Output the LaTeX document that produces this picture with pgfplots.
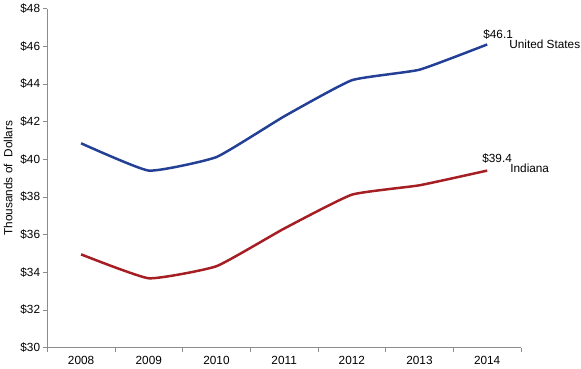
\documentclass[border=0pt]{standalone}
\usepackage{pgfplots}
\pgfplotsset{compat=1.18}
\usepackage{fontspec}
\setmainfont{Liberation Sans}
\definecolor{usblue}{RGB}{35,64,150}
\definecolor{inred}{RGB}{165,30,36}
\definecolor{axgray}{RGB}{140,140,140}
\begin{document}
\fontsize{11.8bp}{13bp}\selectfont
\begin{tikzpicture}
\begin{axis}[
  at={(0,0)}, anchor=south west,
  scale only axis, width=474bp, height=339bp,
  xmin=-0.5, xmax=6.5, ymin=30, ymax=48,
  axis x line*=bottom, axis y line*=left,
  axis line style={axgray, line width=0.8pt},
  xtick={0,...,6}, xticklabels={2008,2009,2010,2011,2012,2013,2014},
  major x tick style={draw=none},
  minor xtick={-0.5,0.5,...,6.5},
  minor tick length=4bp,
  every minor tick/.style={axgray, line width=0.8pt},
  ytick={30,32,...,48},
  yticklabel={\$\pgfmathprintnumber{\tick}},
  ytick style={axgray, line width=0.8pt},
  major tick length=4bp,
  tick align=outside,
  /pgf/number format/assume math mode=true,
  ticklabel style={font=\fontsize{11.8bp}{13bp}\selectfont, text=black},
  xticklabel style={yshift=-1bp},
  yticklabel style={xshift=1bp},
  ylabel={Thousands of\ \ Dollars},
  ylabel style={font=\fontsize{11.8bp}{13bp}\selectfont, at={(rel axis cs:0,0.5)}, anchor=center, yshift=39bp},
  clip=false,
]
\addplot[usblue, line width=2.5pt, smooth, tension=0.25] coordinates {
(0,40.85) (1,39.4) (2,40.12) (3,42.28) (4,44.2) (5,44.76) (6,46.1)};
\addplot[inred, line width=2.5pt, smooth, tension=0.25] coordinates {
(0,34.95) (1,33.68) (2,34.32) (3,36.32) (4,38.12) (5,38.62) (6,39.4)};
\node[anchor=base west, inner sep=0] at (axis cs:6,46.1) [xshift=-4bp, yshift=6bp] {\$46.1};
\node[anchor=west, inner sep=0] at (axis cs:6,46.1) [xshift=22bp] {United States};
\node[anchor=base west, inner sep=0] at (axis cs:6,39.4) [xshift=-5bp, yshift=8bp] {\$39.4};
\node[anchor=west, inner sep=0] at (axis cs:6,39.4) [xshift=23bp, yshift=2bp] {Indiana};
\end{axis}
\useasboundingbox (-47bp,-21bp) rectangle (534bp,346bp);
\end{tikzpicture}
\end{document}
